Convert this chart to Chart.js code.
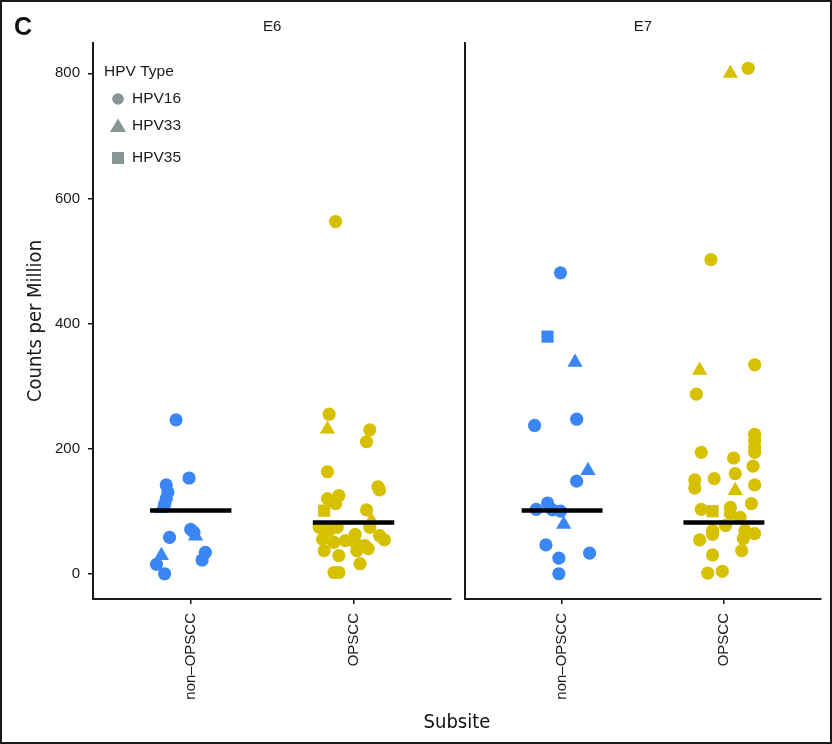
<!DOCTYPE html>
<html><head><meta charset="utf-8">
<script src="https://cdn.jsdelivr.net/npm/chart.js@4/dist/chart.umd.min.js"></script>
<style>
html,body{margin:0;padding:0;background:#fff;}
#frame{position:relative;width:832px;height:744px;overflow:hidden;background:#fff;font-family:'Liberation Sans',Arial,sans-serif;color:#111;}
#border{position:absolute;left:0;top:0;width:832px;height:744px;box-sizing:border-box;border:2px solid #1a1a1a;pointer-events:none;z-index:5;}
#c1wrap{position:absolute;left:0;top:0;width:460px;height:744px;}
#c2wrap{position:absolute;left:455px;top:0;width:377px;height:744px;}
#panelLabel{position:absolute;left:14px;top:11px;font:bold 25px 'Liberation Sans',Arial,sans-serif;line-height:30px;z-index:4;}
#xtitle{position:absolute;left:357px;width:200px;top:708px;text-align:center;font:20px 'Liberation Sans Narrow','DejaVu Sans Condensed','Liberation Sans',sans-serif;line-height:26px;z-index:4;}
</style>
</head><body>
<div id="frame">
  <div id="c1wrap"><canvas id="c1"></canvas></div>
  <div id="c2wrap"><canvas id="c2"></canvas></div>
  <div id="panelLabel">C</div>
  <div id="xtitle">Subsite</div>
  <div id="border"></div>
</div>
<script>
// ---- data ----
const subsites = ['non\u2013OPSCC', 'OPSCC'];
const panels = ['E6', 'E7'];
const hpvTypes = ['HPV16', 'HPV33', 'HPV35'];
const yTicks = [0, 200, 400, 600, 800];

// E6, non-OPSCC
const e6NonCounts = [246,153,142,130,120,111,104,71,66,60,58,34,22,29,15,0];
const e6NonJitter = [-0.09,-0.01,-0.15,-0.14,-0.15,-0.16,-0.18,0.00,0.02,0.03,-0.13,0.09,0.07,-0.18,-0.21,-0.16];
const e6NonType   = [16,16,16,16,16,16,33,16,16,33,16,16,16,33,16,16];

// E6, OPSCC
const e6OpCounts = [563,255,231,230,211,163,139,134,125,120,112,101,102,85,74,69,74,63,74,61,54,55,50,53,50,45,37,29,37,40,16,2,2];
const e6OpJitter = [-0.11,-0.15,-0.16,0.10,0.08,-0.16,0.15,0.16,-0.09,-0.16,-0.11,-0.18,0.08,0.11,-0.21,-0.15,-0.10,0.01,0.10,0.16,0.19,-0.19,-0.12,-0.05,0.01,0.07,-0.18,-0.09,0.02,0.09,0.04,-0.12,-0.09];
const e6OpType   = [16,16,33,16,16,16,16,16,16,16,16,35,16,33,16,16,16,16,16,16,16,16,16,16,16,16,16,16,16,16,16,16,16];

// E7, non-OPSCC
const e7NonCounts = [481,379,338,247,237,165,148,103,113,102,100,79,46,33,25,0];
const e7NonJitter = [-0.01,-0.09,0.08,0.09,-0.17,0.16,0.09,-0.16,-0.09,-0.06,-0.01,0.01,-0.10,0.17,-0.02,-0.02];
const e7NonType   = [16,35,33,16,16,33,16,16,16,16,16,33,16,16,16,16];

// E7, OPSCC
const e7OpCounts = [808,800,502,334,325,287,223,213,202,194,194,185,172,160,152,150,137,142,133,103,100,112,106,96,90,77,69,69,64,56,54,63,37,30,1,4];
const e7OpJitter = [0.15,0.04,-0.08,0.19,-0.15,-0.17,0.19,0.19,0.19,0.19,-0.14,0.06,0.18,0.07,-0.06,-0.18,-0.18,0.19,0.07,-0.14,-0.07,0.17,0.04,0.04,0.10,0.01,-0.07,0.13,0.19,0.12,-0.15,-0.07,0.11,-0.07,-0.10,-0.01];
const e7OpType   = [16,33,16,16,33,16,16,16,16,16,16,16,16,16,16,16,16,16,33,16,35,16,16,16,16,16,16,16,16,16,16,16,16,16,16,16];

// medians (black bars)
const e6Medians = [101, 82];
const e7Medians = [101, 82];

// ---- styling ----
const subsiteColors = ['#3b86f5', '#d6c000'];
const legendGrey = '#879595';
const ink = '#1a1a1a';
const styleFor = {16: 'circle', 33: 'triangle', 35: 'rect'};
const radiusFor = {16: 6.6, 33: 8.8, 35: 8.6};
const FONT = "'Liberation Sans', Arial, sans-serif";
const NARROW = "'Liberation Sans Narrow', 'DejaVu Sans Condensed', 'Liberation Sans', sans-serif";

function pointsDataset(counts, jitter, types, cat, color) {
  return {
    type: 'scatter',
    data: counts.map((v, i) => ({x: cat + jitter[i], y: v})),
    pointStyle: types.map(t => styleFor[t]),
    pointRadius: types.map(t => radiusFor[t]),
    pointHoverRadius: types.map(t => radiusFor[t]),
    backgroundColor: color,
    borderColor: color,
    borderWidth: 0,
    showLine: false,
    order: 1
  };
}
function medianDataset(m, cat) {
  return {
    type: 'scatter',
    data: [{x: cat - 0.25, y: m}, {x: cat + 0.25, y: m}],
    showLine: true,
    borderColor: '#000',
    borderWidth: 4.5,
    borderCapStyle: 'butt',
    pointRadius: 0,
    pointHoverRadius: 0,
    order: 0
  };
}

const stripPlugin = {
  id: 'strip',
  afterDraw(chart, args, opts) {
    const ctx = chart.ctx, a = chart.chartArea;
    ctx.save();
    ctx.font = '15px ' + FONT;
    ctx.fillStyle = ink;
    ctx.textAlign = 'center';
    ctx.textBaseline = 'middle';
    ctx.fillText(opts.text, (a.left + a.right) / 2, 27);
    ctx.restore();
  }
};

const legendPlugin = {
  id: 'hpvLegend',
  afterDraw(chart, args, opts) {
    if (!opts.show) return;
    const ctx = chart.ctx;
    const rows = [99, 126, 158];
    ctx.save();
    ctx.font = '15.5px ' + FONT;
    ctx.fillStyle = ink;
    ctx.textAlign = 'left';
    ctx.textBaseline = 'middle';
    ctx.fillText('HPV Type', 104, 72);
    hpvTypes.forEach((t, i) => {
      const y = rows[i], x = 118;
      ctx.fillStyle = legendGrey;
      ctx.beginPath();
      if (i === 0) {
        ctx.arc(x, y, 5.8, 0, Math.PI * 2);
      } else if (i === 1) {
        ctx.moveTo(x, y - 7.5); ctx.lineTo(x + 8, y + 6); ctx.lineTo(x - 8, y + 6); ctx.closePath();
      } else {
        ctx.rect(x - 6, y - 6, 12, 12);
      }
      ctx.fill();
      ctx.fillStyle = ink;
      ctx.fillText(t, 132, y);
    });
    ctx.restore();
  }
};

function makeChart(id, panelIdx, counts, medians, first) {
  const [nonC, nonJ, nonT, opC, opJ, opT] = counts;
  const datasets = [
    medianDataset(medians[0], 1),
    medianDataset(medians[1], 2),
    pointsDataset(nonC, nonJ, nonT, 1, subsiteColors[0]),
    pointsDataset(opC, opJ, opT, 2, subsiteColors[1])
  ];
  return new Chart(document.getElementById(id), {
    type: 'scatter',
    data: {datasets},
    plugins: [stripPlugin, legendPlugin],
    options: {
      responsive: true,
      maintainAspectRatio: false,
      devicePixelRatio: 1,
      animation: false,
      events: [],
      layout: {padding: {top: 43, right: first ? 6 : 11, bottom: 0, left: 0}},
      plugins: {
        legend: {display: false},
        tooltip: {enabled: false},
        title: {display: false},
        strip: {text: panels[panelIdx]},
        hpvLegend: {show: first}
      },
      scales: {
        x: {
          type: 'linear', min: 0.4, max: 2.6,
          afterBuildTicks: s => { s.ticks = [{value: 1}, {value: 2}]; },
          afterFit: s => { s.height = 145; },
          ticks: {
            callback: v => subsites[Math.round(v) - 1] || '',
            minRotation: 90, maxRotation: 90, autoSkip: false,
            font: {family: FONT, size: 15}, color: ink, padding: 9
          },
          grid: {display: true, drawOnChartArea: false, drawTicks: true, tickLength: 5, color: ink, lineWidth: 1.5},
          border: {display: true, color: ink, width: 2}
        },
        y: {
          type: 'linear', min: -40.4, max: 848.4,
          afterBuildTicks: s => { s.ticks = yTicks.map(v => ({value: v})); },
          afterFit: s => { s.width = first ? 93 : 10; },
          ticks: {display: first, font: {family: FONT, size: 15}, color: ink, padding: 8},
          grid: {display: first, drawOnChartArea: false, drawTicks: first, tickLength: 5, color: ink, lineWidth: 1.5},
          border: {display: true, color: ink, width: 2},
          title: {display: first, text: 'Counts per Million', font: {family: NARROW, size: 20}, color: ink, padding: {top: 24, bottom: 0}}
        }
      }
    }
  });
}

makeChart('c1', 0, [e6NonCounts, e6NonJitter, e6NonType, e6OpCounts, e6OpJitter, e6OpType], e6Medians, true);
makeChart('c2', 1, [e7NonCounts, e7NonJitter, e7NonType, e7OpCounts, e7OpJitter, e7OpType], e7Medians, false);
</script>
</body></html>
